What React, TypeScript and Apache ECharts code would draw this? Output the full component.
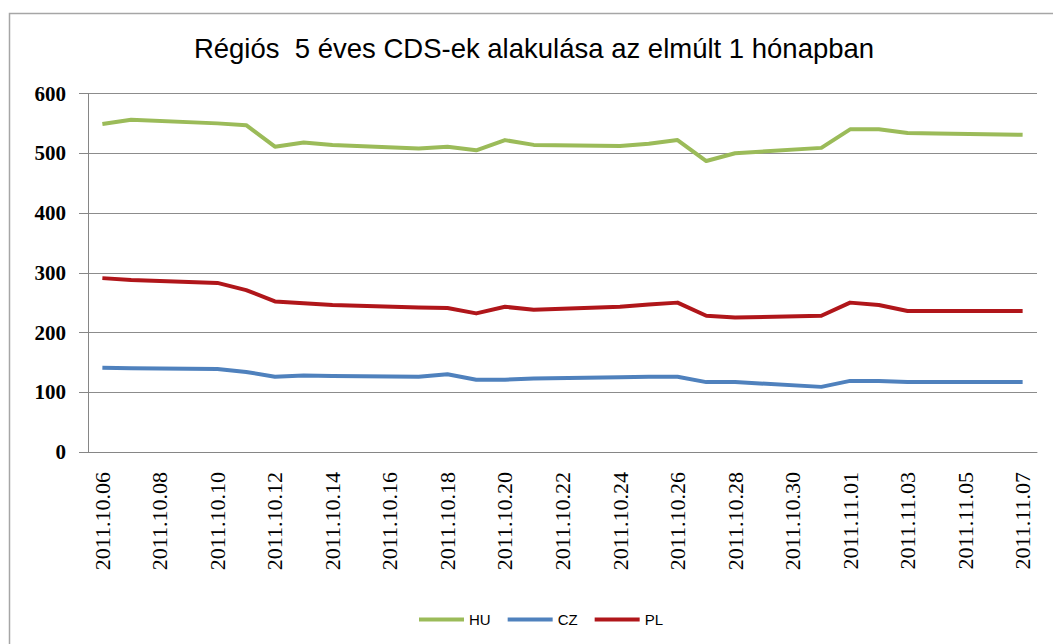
import React, { useEffect, useRef } from "react";
import * as echarts from "echarts";

const titleText = "Régiós  5 éves CDS-ek alakulása az elmúlt 1 hónapban";

const categories = [
  "2011.10.06", "2011.10.07", "2011.10.08", "2011.10.09", "2011.10.10", "2011.10.11",
  "2011.10.12", "2011.10.13", "2011.10.14", "2011.10.15", "2011.10.16", "2011.10.17",
  "2011.10.18", "2011.10.19", "2011.10.20", "2011.10.21", "2011.10.22", "2011.10.23",
  "2011.10.24", "2011.10.25", "2011.10.26", "2011.10.27", "2011.10.28", "2011.10.29",
  "2011.10.30", "2011.10.31", "2011.11.01", "2011.11.02", "2011.11.03", "2011.11.04",
  "2011.11.05", "2011.11.06", "2011.11.07",
];

const huValues = [
  549, 556, null, null, 550, 547, 511, 518, 514, null, null, 508, 511, 505, 522, 514,
  null, null, 512, 516, 522, 487, 500, null, null, 509, 540, 540, 534, 533, null, null, 531,
];

const czValues = [
  141, 140, null, null, 139, 134, 126, 128, 127, null, null, 126, 130, 121, 121, 123,
  null, null, 125, 126, 126, 117, 117, null, null, 109, 119, 119, 117, 117, null, null, 117,
];

const plValues = [
  291, 288, null, null, 283, 271, 252, 249, 246, null, null, 242, 241, 232, 243, 238,
  null, null, 243, 247, 250, 228, 225, null, null, 228, 250, 246, 236, 236, null, null, 236,
];

const seriesNames = ["HU", "CZ", "PL"];
const seriesColors = ["#9BBB59", "#4F81BD", "#B0161A"];

export default function App() {
  const ref = useRef<HTMLDivElement>(null);

  useEffect(() => {
    if (!ref.current) return;
    const chart = echarts.init(ref.current, null, { renderer: "svg" });
    const valueSets = [huValues, czValues, plValues];
    chart.setOption({
      animation: false,
      backgroundColor: "#ffffff",
      graphic: [
        {
          type: "rect",
          shape: { x: 9.5, y: 13.5, width: 1100, height: 700 },
          style: { fill: "none", stroke: "#a6a6a6", lineWidth: 1.5 },
          silent: true,
        },
        {
          type: "text",
          x: 534,
          y: 48,
          style: {
            text: titleText,
            textAlign: "center",
            textVerticalAlign: "middle",
            fontFamily: "Liberation Sans",
            fontSize: 27.5,
            fill: "#000000",
          },
        },
      ],
      legend: {
        data: seriesNames,
        left: 414,
        top: 607,
        icon: "rect",
        itemWidth: 45,
        itemHeight: 4,
        itemGap: 17,
        textStyle: { fontFamily: "Liberation Sans", fontSize: 15, color: "#000" },
      },
      grid: { left: 88, right: 16, top: 93.5, bottom: 192, containLabel: false },
      xAxis: {
        type: "category",
        data: categories,
        boundaryGap: true,
        axisLine: { lineStyle: { color: "#868686", width: 1 } },
        axisTick: { interval: 1, length: 6, lineStyle: { color: "#868686" } },
        axisLabel: {
          interval: 1,
          rotate: 90,
          margin: 20,
          fontFamily: "Liberation Serif",
          fontSize: 22,
          color: "#000",
        },
        splitLine: { show: false },
      },
      yAxis: {
        type: "value",
        min: 0,
        max: 600,
        interval: 100,
        axisLine: { show: true, lineStyle: { color: "#868686", width: 1 } },
        axisTick: { show: true, length: 9, lineStyle: { color: "#868686" } },
        axisLabel: {
          margin: 22,
          fontFamily: "Liberation Serif",
          fontSize: 21,
          fontWeight: "bold",
          color: "#000",
        },
        splitLine: { lineStyle: { color: "#8c8c8c", width: 1 } },
      },
      series: seriesNames.map((name, i) => ({
        name,
        type: "line",
        data: valueSets[i],
        connectNulls: true,
        symbol: "none",
        color: seriesColors[i],
        lineStyle: { width: 4, color: seriesColors[i], join: "round" },
      })),
    });
    return () => chart.dispose();
  }, []);

  return (
    <div
      ref={ref}
      style={{ position: "absolute", left: 0, top: 0, width: 1053, height: 644 }}
    />
  );
}
